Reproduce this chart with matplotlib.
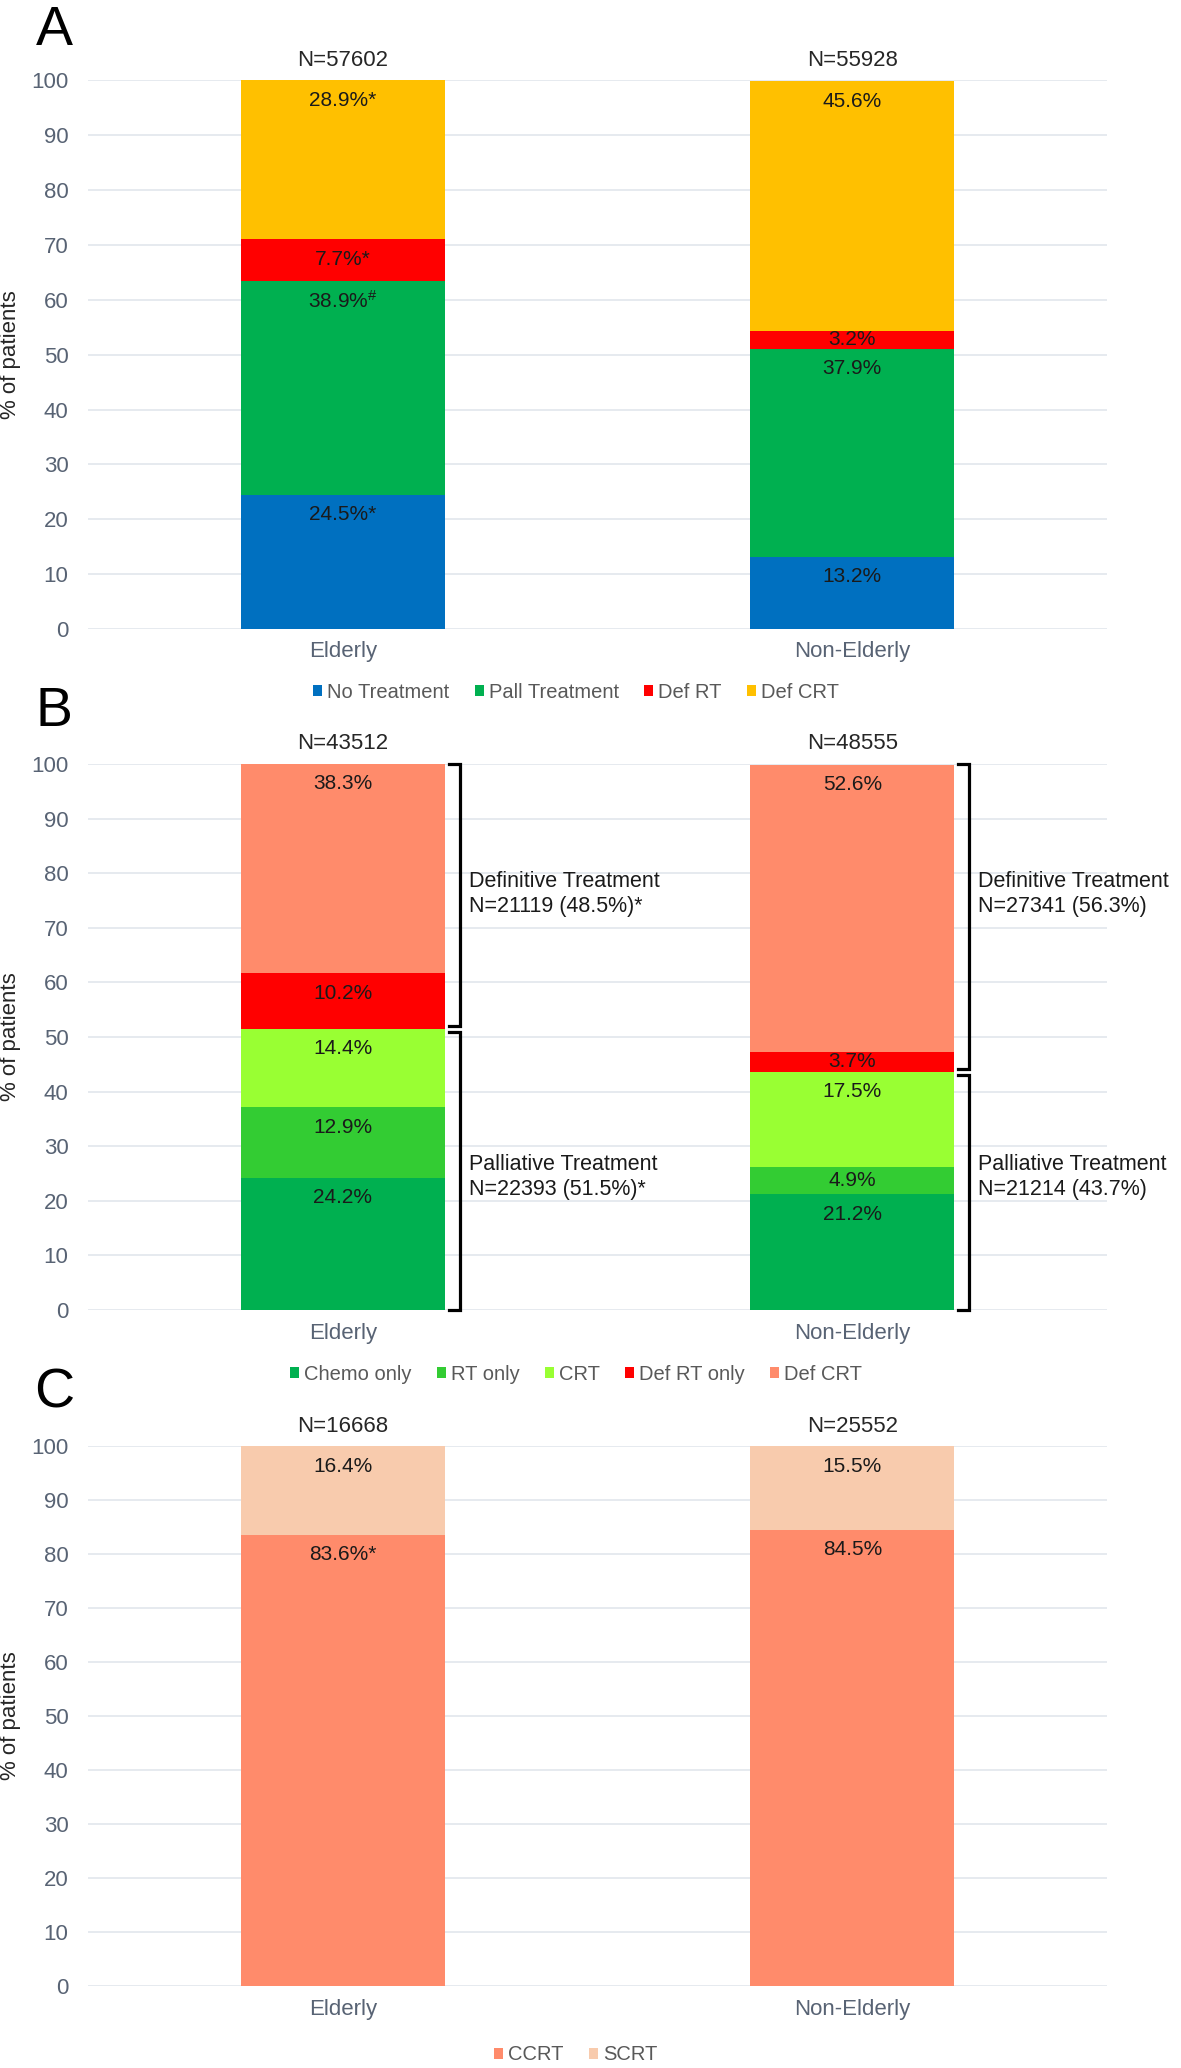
import matplotlib
matplotlib.use('Agg')
import matplotlib.pyplot as plt
from matplotlib.patches import Patch

plt.rcParams['font.family'] = ['Liberation Sans', 'DejaVu Sans']
plt.rcParams['mathtext.fontset'] = 'custom'
plt.rcParams['mathtext.rm'] = 'Liberation Sans'
plt.rcParams['mathtext.default'] = 'regular'

# ---------------- data ----------------
groups = ['Elderly', 'Non-Elderly']

a_series = ['No Treatment', 'Pall Treatment', 'Def RT', 'Def CRT']
a_elderly = [24.5, 38.9, 7.7, 28.9]
a_nonelderly = [13.2, 37.9, 3.2, 45.6]
a_marks_elderly = ['*', r'$^{\#}$', '*', '*']
a_marks_nonelderly = ['', '', '', '']
a_n = ['N=57602', 'N=55928']

b_series = ['Chemo only', 'RT only', 'CRT', 'Def RT only', 'Def CRT']
b_elderly = [24.2, 12.9, 14.4, 10.2, 38.3]
b_nonelderly = [21.2, 4.9, 17.5, 3.7, 52.6]
b_marks = ['', '', '', '', '']
b_n = ['N=43512', 'N=48555']
b_n_palliative_series = 3
b_def_text = ['Definitive Treatment\nN=21119 (48.5%)*',
              'Definitive Treatment\nN=27341 (56.3%)']
b_pal_text = ['Palliative Treatment\nN=22393 (51.5%)*',
              'Palliative Treatment\nN=21214 (43.7%)']

c_series = ['CCRT', 'SCRT']
c_elderly = [83.6, 16.4]
c_nonelderly = [84.5, 15.5]
c_marks_elderly = ['*', '']
c_marks_nonelderly = ['', '']
c_n = ['N=16668', 'N=25552']

yticks = list(range(0, 101, 10))

# ---------------- style ----------------
a_colors = ['#0070C0', '#00B050', '#FF0000', '#FFC000']
b_colors = ['#00B050', '#33CC33', '#99FF33', '#FF0000', '#FF8B6B']
c_colors = ['#FF8B6B', '#F8CBAD']
grid_color = '#E6EAEF'
tick_color = '#586374'
label_color = '#1a1a1a'

W, H = 1181, 2068
fig = plt.figure(figsize=(W / 100, H / 100), dpi=100)

left = 88 / W
width = (1107 - 88) / W


def make_ax(top_px, bottom_px):
    return fig.add_axes([left, 1 - bottom_px / H, width, (bottom_px - top_px) / H])


def draw_panel(ax, values_by_group, marks_by_group, colors, n_labels):
    ax_h_px = ax.get_position().height * H
    px_per_unit = ax_h_px / 100.0
    for gi, (vals, marks) in enumerate(zip(values_by_group, marks_by_group)):
        bottom = 0.0
        for v, m, c in zip(vals, marks, colors):
            ax.bar(gi, v, bottom=bottom, width=0.4, color=c, edgecolor='none', zorder=2)
            top = bottom + v
            seg_px = v * px_per_unit
            off_px = min(20.0, seg_px / 2.0)
            ax.annotate(f'{v:.1f}%{m}', xy=(gi, top), xytext=(0, -off_px * 0.72),
                        textcoords='offset points', ha='center', va='center',
                        fontsize=15, color=label_color, zorder=3)
            bottom = top
        ax.annotate(n_labels[gi], xy=(gi, 100), xytext=(0, 20 * 0.72),
                    textcoords='offset points', ha='center', va='center',
                    fontsize=16, color='#262626', annotation_clip=False)
    ax.set_xlim(-0.5, 1.5)
    ax.set_ylim(0, 100)
    ax.set_yticks(yticks)
    ax.set_xticks(range(len(groups)))
    ax.set_xticklabels(groups)
    ax.tick_params(axis='y', length=0, pad=14, labelsize=16, labelcolor=tick_color)
    ax.tick_params(axis='x', length=0, pad=9, labelsize=16, labelcolor=tick_color)
    ax.set_axisbelow(True)
    ax.yaxis.grid(True, color=grid_color, lw=1.4)
    for s in ax.spines.values():
        s.set_visible(False)
    ax.set_ylabel('% of patients', fontsize=16, color='#262626')
    ax.yaxis.set_label_coords(-0.066, 0.5)


def add_legend(series, colors, y_px):
    handles = [Patch(facecolor=c, edgecolor='none') for c in colors]
    fig.legend(handles, series, loc='center', bbox_to_anchor=(576 / W, 1 - y_px / H),
               ncol=len(series), frameon=False, fontsize=14.5, handlelength=0.45,
               handleheight=0.45, handletextpad=0.25, columnspacing=1.25,
               labelcolor='#595959')


# Panel A
axA = make_ax(80.5, 629)
draw_panel(axA, [a_elderly, a_nonelderly], [a_marks_elderly, a_marks_nonelderly], a_colors, a_n)
add_legend(a_series, a_colors, 692)

# Panel B
axB = make_ax(764, 1310)
draw_panel(axB, [b_elderly, b_nonelderly], [b_marks, b_marks], b_colors, b_n)
add_legend(b_series, b_colors, 1374)
for gi, vals in enumerate([b_elderly, b_nonelderly]):
    boundary = sum(vals[:b_n_palliative_series])
    xv = gi + 0.23
    xh = gi + 0.208
    g = 0.5
    axB.plot([xh, xv, xv, xh], [100, 100, boundary + g, boundary + g],
             color='black', lw=2.3, clip_on=False, zorder=4, solid_joinstyle='miter')
    axB.plot([xh, xv, xv, xh], [boundary - g, boundary - g, 0, 0],
             color='black', lw=2.3, clip_on=False, zorder=4, solid_joinstyle='miter')
    axB.text(gi + 0.247, 76.2, b_def_text[gi], ha='left', va='center', fontsize=15.5,
             color='#1a1a1a', linespacing=1.25, zorder=4)
    axB.text(gi + 0.247, 24.3, b_pal_text[gi], ha='left', va='center', fontsize=15.5,
             color='#1a1a1a', linespacing=1.25, zorder=4)

# Panel C
axC = make_ax(1446, 1986)
draw_panel(axC, [c_elderly, c_nonelderly], [c_marks_elderly, c_marks_nonelderly], c_colors, c_n)
add_legend(c_series, c_colors, 2055)

# Panel letters (baseline at the bottom of the capital)
for letter, yp in [('A', 45), ('B', 726), ('C', 1408)]:
    fig.text(54 / W, 1 - yp / H, letter, fontsize=40, ha='center', va='baseline', color='black')

fig.savefig('out.png', dpi=100)
